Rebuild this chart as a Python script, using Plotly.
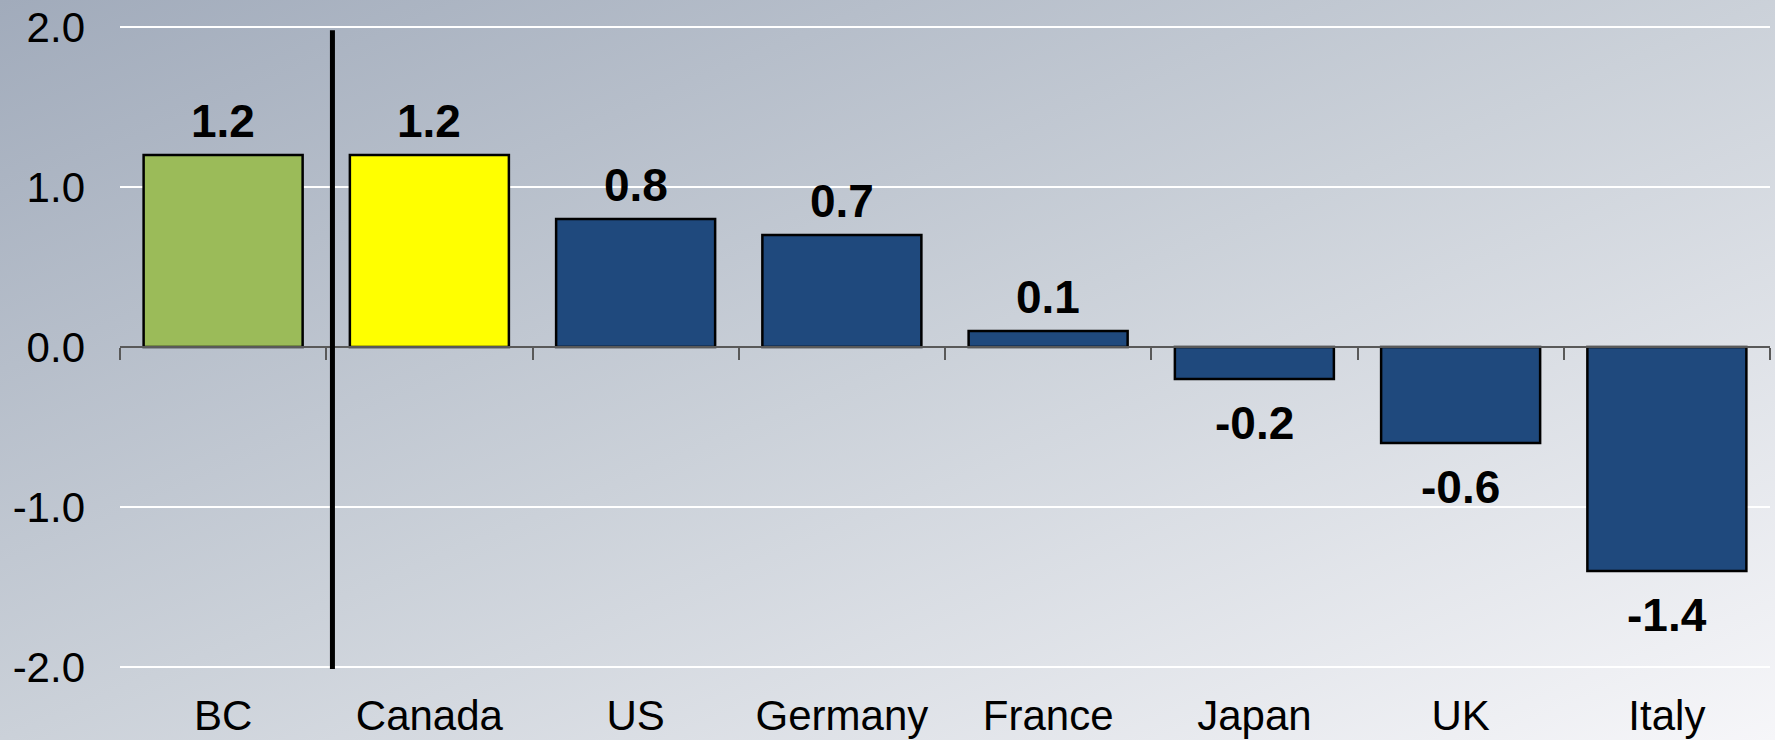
import base64
import plotly.graph_objects as go

# Series data
regions = ["BC", "Canada", "US", "Germany", "France", "Japan", "UK", "Italy"]
growth = [1.2, 1.2, 0.8, 0.7, 0.1, -0.2, -0.6, -1.4]
bar_colors = ["#9BBB59", "#FFFF00", "#1F497D", "#1F497D", "#1F497D", "#1F497D", "#1F497D", "#1F497D"]

# Value axis ticks
y_ticks = [-2.0, -1.0, 0.0, 1.0, 2.0]
y_tick_text = ["-2.0", "-1.0", "0.0", "1.0", "2.0"]

FONT = "Liberation Sans, Arial, sans-serif"
W, H = 1775, 740
M_L, M_R, M_T, M_B = 120, 5, 25, 71
PLOT_W = W - M_L - M_R
PLOT_H = H - M_T - M_B
Y_PAD = 0.0125  # keeps the outer gridlines inside the plot area

# Soft diagonal backdrop for the whole canvas
svg = (
    '<svg xmlns="http://www.w3.org/2000/svg" width="1775" height="740" preserveAspectRatio="none">'
    '<defs><linearGradient id="g" x1="0" y1="0" x2="1" y2="1">'
    '<stop offset="0" stop-color="#a1abbb"/>'
    '<stop offset="0.5" stop-color="#cbd1d9"/>'
    '<stop offset="1" stop-color="#f6f6f9"/>'
    '</linearGradient></defs>'
    '<rect width="1775" height="740" fill="url(#g)"/></svg>'
)
bg_uri = "data:image/svg+xml;base64," + base64.b64encode(svg.encode()).decode()

fig = go.Figure()
fig.add_trace(go.Bar(
    x=regions,
    y=growth,
    marker=dict(color=bar_colors, line=dict(color="black", width=2.5)),
    hoverinfo="skip",
))
# Invisible companion trace so the zero baseline axis gets drawn
fig.add_trace(go.Scatter(
    x=list(range(len(regions))), y=growth, xaxis="x2",
    mode="none", hoverinfo="skip", showlegend=False,
))

# Value labels above positive bars, below negative ones
for name, v in zip(regions, growth):
    fig.add_annotation(
        x=name, y=v, text=f"<b>{v:.1f}</b>", showarrow=False,
        xref="x", yref="y",
        yanchor="bottom" if v >= 0 else "top",
        yshift=6 if v >= 0 else -16,
        font=dict(family=FONT, size=46, color="black"),
    )

# Divider between the province and the countries
fig.add_shape(type="line", xref="x", yref="y", x0=0.53, x1=0.53, y0=1.98, y1=-2.03,
              line=dict(color="black", width=5), layer="above")

fig.update_layout(
    width=W, height=H,
    margin=dict(l=M_L, r=M_R, t=M_T, b=M_B, pad=0, autoexpand=False),
    paper_bgcolor="#cbd1d9",
    plot_bgcolor="rgba(0,0,0,0)",
    showlegend=False,
    bargap=0.229,
    font=dict(family=FONT, color="black"),
    images=[dict(
        source=bg_uri, xref="paper", yref="paper",
        x=-M_L / PLOT_W, y=1 + M_T / PLOT_H,
        sizex=W / PLOT_W, sizey=H / PLOT_H,
        xanchor="left", yanchor="top", sizing="stretch", layer="below",
    )],
    xaxis=dict(
        categoryorder="array", categoryarray=regions,
        range=[-0.5, len(regions) - 0.5],
        showline=False, showgrid=False, zeroline=False, ticks="",
        tickfont=dict(family=FONT, size=42, color="black"),
        ticklabelstandoff=18, automargin=False,
        fixedrange=True,
    ),
    # Baseline at zero with boundary ticks
    xaxis2=dict(
        overlaying="x", anchor="free", position=0.5, side="bottom",
        range=[-0.5, len(regions) - 0.5],
        tickmode="array", tickvals=[i - 0.5 for i in range(len(regions) + 1)],
        ticks="outside", ticklen=12, tickwidth=1.5, tickcolor="#595959",
        showline=True, linecolor="#595959", linewidth=1.5,
        showticklabels=False, showgrid=False, zeroline=False,
        automargin=False, fixedrange=True,
    ),
    yaxis=dict(
        range=[-2 - Y_PAD, 2 + Y_PAD],
        tickmode="array", tickvals=y_ticks, ticktext=y_tick_text,
        showgrid=True, gridcolor="white", gridwidth=2,
        zeroline=False, showline=False, ticks="",
        tickfont=dict(family=FONT, size=42, color="black"),
        ticklabelstandoff=34, automargin=False,
        fixedrange=True,
    ),
)

fig.write_html("out.html")
